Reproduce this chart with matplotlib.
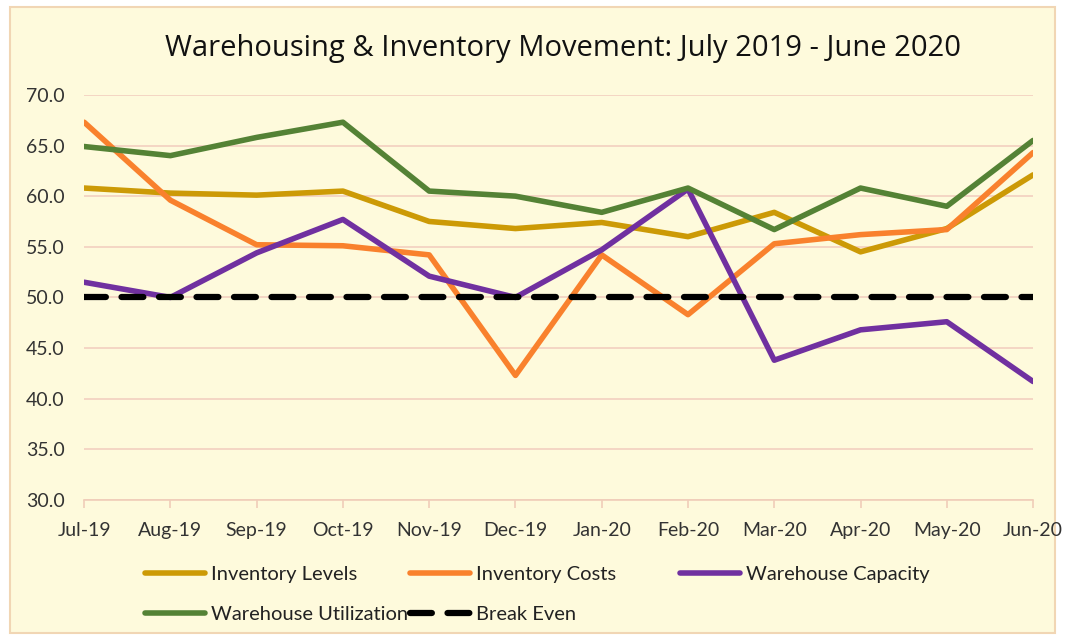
import matplotlib
matplotlib.use("Agg")
import matplotlib.pyplot as plt
from matplotlib.patches import Rectangle

months = ["Jul-19", "Aug-19", "Sep-19", "Oct-19", "Nov-19", "Dec-19",
          "Jan-20", "Feb-20", "Mar-20", "Apr-20", "May-20", "Jun-20"]
inventory_levels = [60.8, 60.3, 60.1, 60.5, 57.5, 56.8, 57.4, 56.0, 58.4, 54.5, 56.8, 62.1]
inventory_costs = [67.3, 59.6, 55.2, 55.1, 54.2, 42.3, 54.2, 48.3, 55.3, 56.2, 56.7, 64.3]
warehouse_capacity = [51.5, 50.0, 54.4, 57.7, 52.1, 50.0, 54.7, 60.7, 43.8, 46.8, 47.6, 41.7]
warehouse_utilization = [64.9, 64.0, 65.8, 67.3, 60.5, 60.0, 58.4, 60.8, 56.7, 60.8, 59.0, 65.5]
break_even = [50.0] * 12
yticks = [30.0, 35.0, 40.0, 45.0, 50.0, 55.0, 60.0, 65.0, 70.0]

bg = "#FEFADC"
plt.rcParams["font.family"] = ["Lato", "DejaVu Sans"]

fig = plt.figure(figsize=(10.65, 6.41), dpi=100, facecolor="white")
fig.patches.append(Rectangle((0.009, 0.012), 0.982, 0.977, transform=fig.transFigure,
                             facecolor=bg, edgecolor="#F1D6B4", linewidth=1.5, zorder=-10))
ax = fig.add_axes([0.079, 0.22, 0.891, 0.632])
ax.patch.set_alpha(0)

x = list(range(len(months)))
l1, = ax.plot(x, inventory_levels, color="#CC9A06", lw=4, label="Inventory Levels", solid_capstyle="round")
l2, = ax.plot(x, inventory_costs, color="#F9812D", lw=4, label="Inventory Costs", solid_capstyle="round")
l3, = ax.plot(x, warehouse_capacity, color="#7030A0", lw=4, label="Warehouse Capacity", solid_capstyle="round")
l4, = ax.plot(x, warehouse_utilization, color="#548235", lw=4, label="Warehouse Utilization", solid_capstyle="round")
l5, = ax.plot(x, break_even, color="black", lw=4.5, ls=(0, (3.5, 2.5)), label="Break Even", dash_capstyle="round")

ax.set_xlim(0, 11)
ax.set_ylim(30, 70)
ax.set_yticks(yticks)
ax.set_yticklabels([f"{v:.1f}" for v in yticks], fontsize=14, color="#333333")
ax.set_xticks(x)
ax.set_xticklabels(months, fontsize=14, color="#333333")
ax.grid(axis="y", color="#F2CFC0", lw=1.2)
ax.set_axisbelow(True)
for s in ["left", "right", "top"]:
    ax.spines[s].set_visible(False)
ax.spines["bottom"].set_color("#F0CDB8")
ax.spines["bottom"].set_linewidth(1.2)
ax.tick_params(axis="y", length=0, pad=14)
ax.tick_params(axis="x", length=6, color="#F0CDB8", width=1.2, pad=10)

fig.text(0.529, 0.925, "Warehousing & Inventory Movement: July 2019 - June 2020",
         ha="center", va="center", fontsize=21, family=["Open Sans", "DejaVu Sans"], color="#111111")

columns = [([l1, l4], 145), ([l2, l5], 410), ([l3], 680)]
for handles, px in columns:
    leg = fig.legend(handles, [h.get_label() for h in handles], loc="upper left",
                     bbox_to_anchor=(px / 1065, 1 - 566 / 641), frameon=False, fontsize=14.5,
                     handlelength=3.0, handletextpad=0.3, labelspacing=1.12,
                     borderpad=0, borderaxespad=0)
    for t in leg.get_texts():
        t.set_color("#222222")

fig.savefig("out.png", dpi=100, facecolor="white")
